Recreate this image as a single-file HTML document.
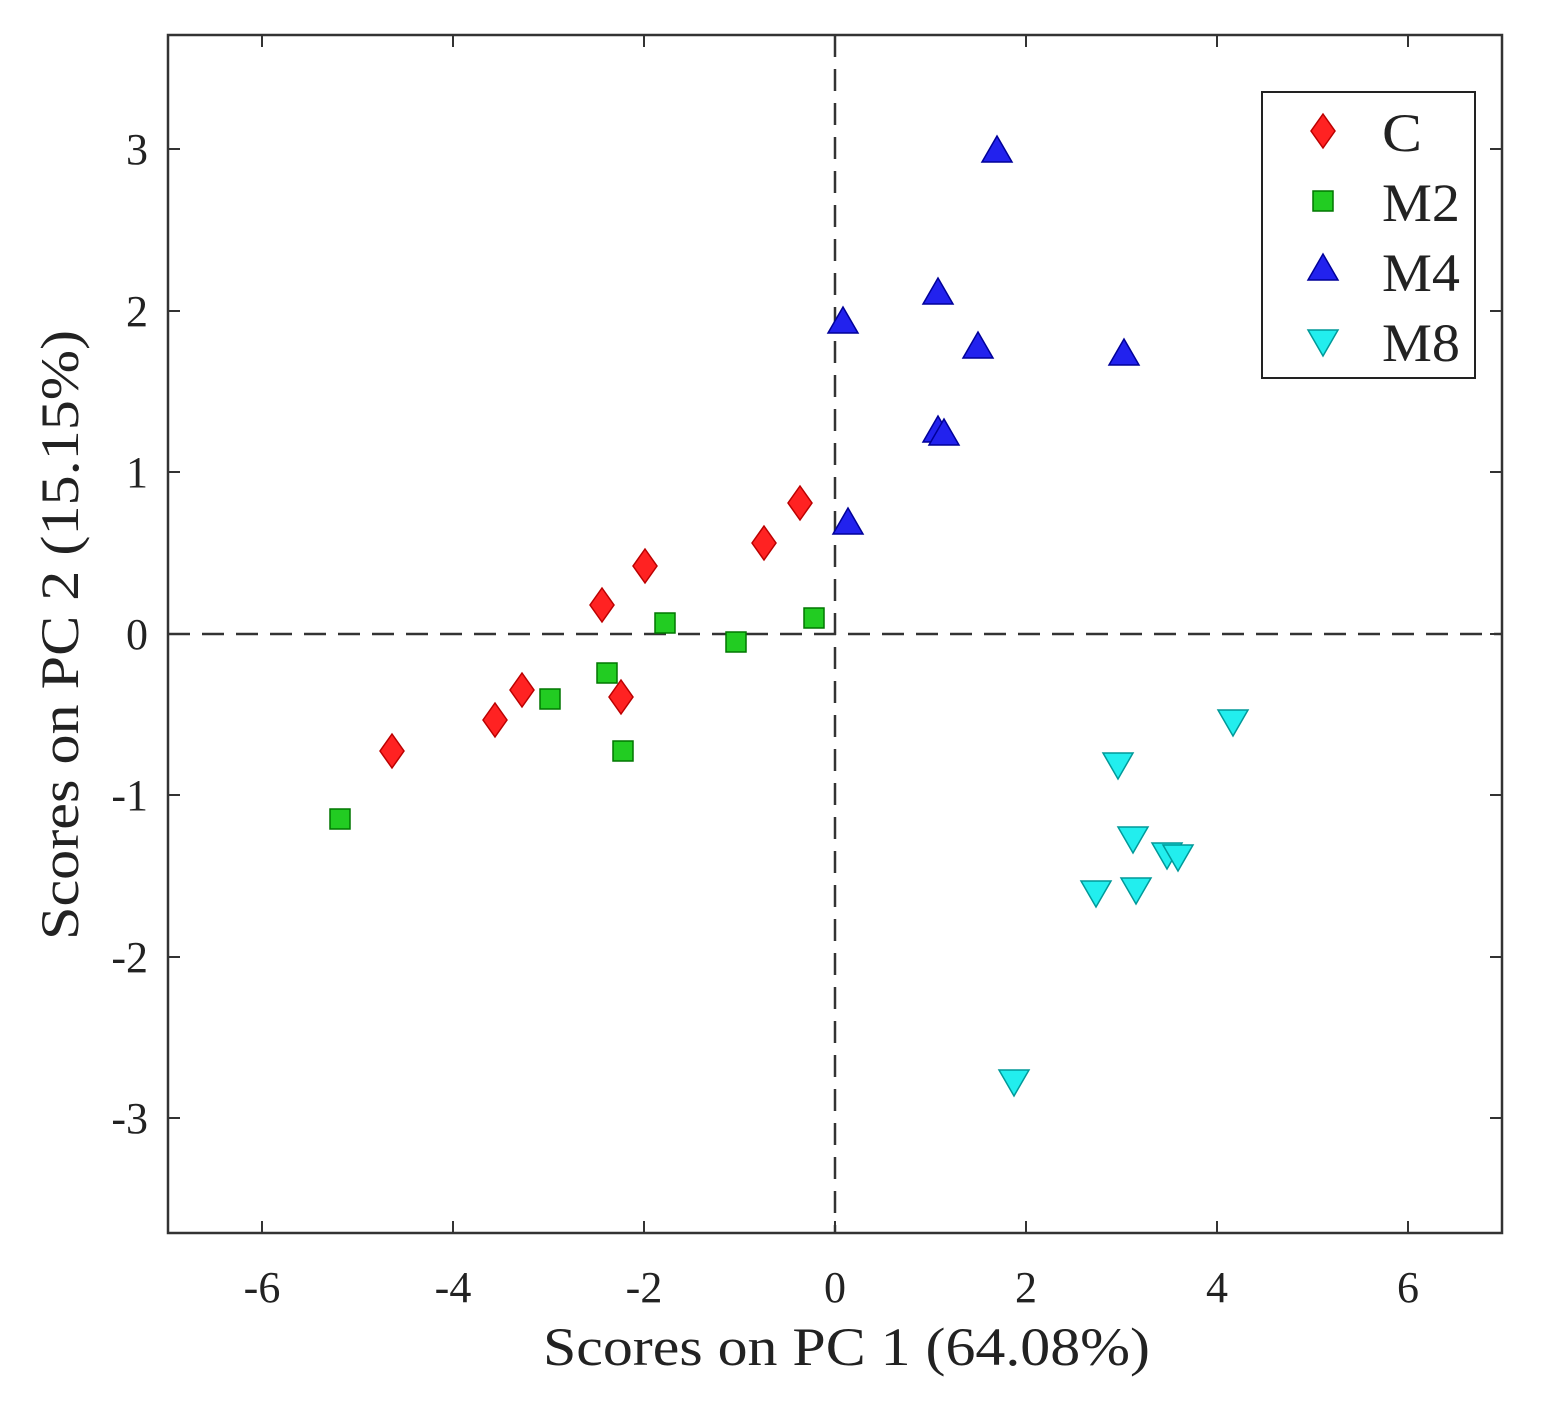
<!DOCTYPE html>
<html><head><meta charset="utf-8"><style>body{margin:0;background:#fff}svg{display:block}</style></head><body>
<svg width="1548" height="1404" viewBox="0 0 1548 1404" xmlns="http://www.w3.org/2000/svg" font-family="Liberation Serif, serif" fill="#222">
<defs>
<path id="dia" d="M0,-17 L12,0 L0,17 L-12,0 Z" fill="#f22" stroke="#b00" stroke-width="1.5"/>
<rect id="sq" x="-10" y="-10" width="20" height="20" fill="#2c2" stroke="#070" stroke-width="1.5"/>
<path id="tri" d="M0,-14 L15,12 L-15,12 Z" fill="#22e" stroke="#009" stroke-width="1.5"/>
<path id="itri" d="M0,14 L15,-12 L-15,-12 Z" fill="#2ee" stroke="#099" stroke-width="1.5"/>
</defs>
<rect x="168" y="35" width="1334" height="1198" fill="none" stroke="#333" stroke-width="2.5"/>
<g stroke="#333" stroke-width="2">
<path d="M262,1233v-12M453,1233v-12M644,1233v-12M835,1233v-12M1026,1233v-12M1217,1233v-12M1408,1233v-12M262,35v12M453,35v12M644,35v12M835,35v12M1026,35v12M1217,35v12M1408,35v12"/>
<path d="M168,149h12M168,311h12M168,472h12M168,634h12M168,795h12M168,957h12M168,1118h12M1502,149h-12M1502,311h-12M1502,472h-12M1502,634h-12M1502,795h-12M1502,957h-12M1502,1118h-12"/>
</g>
<g stroke="#333" stroke-width="2.5" stroke-dasharray="22,12">
<path d="M835,35V1233"/><path d="M168,634H1502"/>
</g>
<g font-size="44" text-anchor="middle">
<text x="262" y="1302">-6</text><text x="453" y="1302">-4</text><text x="644" y="1302">-2</text><text x="835" y="1302">0</text><text x="1026" y="1302">2</text><text x="1217" y="1302">4</text><text x="1408" y="1302">6</text>
</g>
<g font-size="44" text-anchor="end">
<text x="148" y="164">3</text><text x="148" y="326">2</text><text x="148" y="487">1</text><text x="148" y="649">0</text><text x="148" y="810">-1</text><text x="148" y="972">-2</text><text x="148" y="1133">-3</text>
</g>
<text x="543" y="1365" font-size="54" textLength="607" lengthAdjust="spacingAndGlyphs">Scores on PC 1 (64.08%)</text>
<text transform="translate(78,940) rotate(-90)" font-size="54" textLength="610" lengthAdjust="spacingAndGlyphs">Scores on PC 2 (15.15%)</text>
<g>
<use href="#dia" x="392" y="751"/><use href="#dia" x="495" y="720"/><use href="#dia" x="522" y="690"/><use href="#dia" x="602" y="605"/><use href="#dia" x="621" y="697"/><use href="#dia" x="645" y="566"/><use href="#dia" x="764" y="543"/><use href="#dia" x="800" y="503"/>
<use href="#sq" x="340" y="819"/><use href="#sq" x="550" y="699"/><use href="#sq" x="607" y="673"/><use href="#sq" x="623" y="751"/><use href="#sq" x="665" y="623"/><use href="#sq" x="736" y="642"/><use href="#sq" x="814" y="618"/>
<use href="#tri" x="997" y="150"/><use href="#tri" x="938" y="292"/><use href="#tri" x="843" y="321"/><use href="#tri" x="978" y="346"/><use href="#tri" x="1124" y="353"/><use href="#tri" x="938" y="430"/><use href="#tri" x="944" y="433"/><use href="#tri" x="848" y="522"/>
<use href="#itri" x="1233" y="722"/><use href="#itri" x="1118" y="765"/><use href="#itri" x="1133" y="839"/><use href="#itri" x="1167" y="855"/><use href="#itri" x="1178" y="857"/><use href="#itri" x="1096" y="893"/><use href="#itri" x="1136" y="890"/><use href="#itri" x="1014" y="1082"/>
</g>
<rect x="1262" y="92" width="213" height="286" fill="#fff" stroke="#222" stroke-width="2"/>
<use href="#dia" x="1323" y="131"/><use href="#sq" x="1323" y="201"/><use href="#tri" x="1323" y="268"/><use href="#itri" x="1323" y="342"/>
<g font-size="54">
<text x="1382" y="151" textLength="40" lengthAdjust="spacingAndGlyphs">C</text><text x="1382" y="221" textLength="78" lengthAdjust="spacingAndGlyphs">M2</text><text x="1382" y="291" textLength="78" lengthAdjust="spacingAndGlyphs">M4</text><text x="1382" y="361" textLength="78" lengthAdjust="spacingAndGlyphs">M8</text>
</g>
</svg>
</body></html>
